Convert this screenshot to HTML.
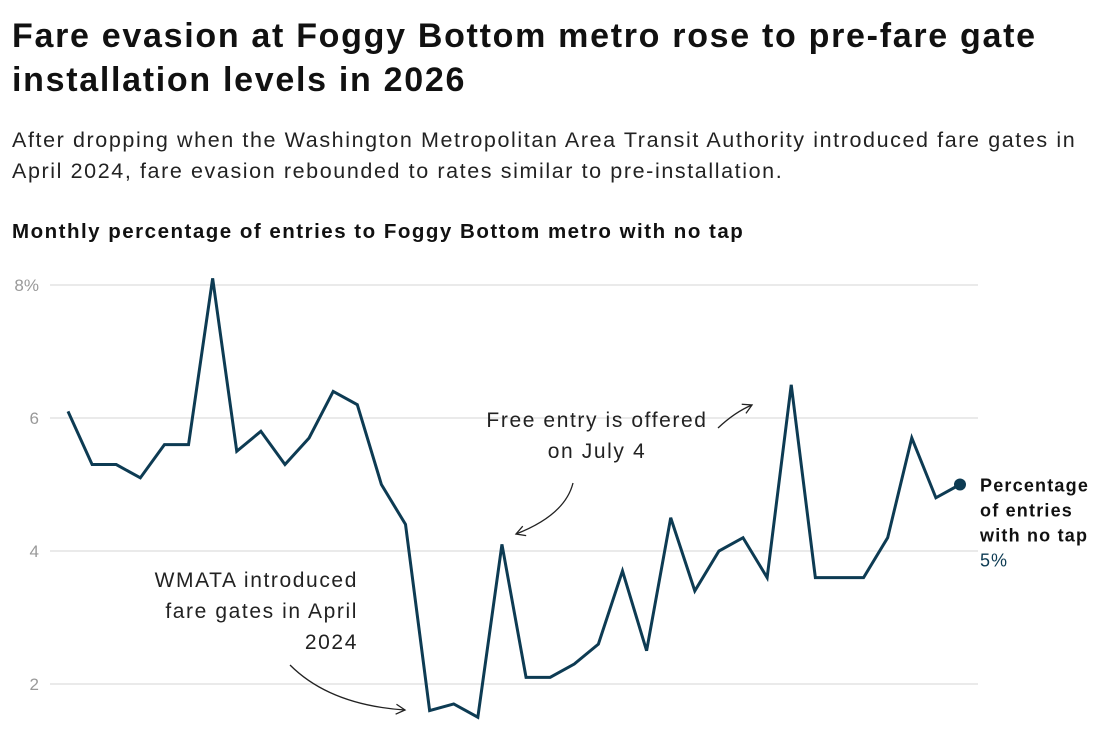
<!DOCTYPE html>
<html><head><meta charset="utf-8">
<style>
body{margin:0;background:#fff;font-family:"Liberation Sans",Arial,sans-serif;color:#111;width:1109px;height:751px;overflow:hidden;position:relative}
h1{position:absolute;left:12px;top:14px;margin:0;font-size:34px;line-height:44px;font-weight:bold;letter-spacing:1.7px;width:1090px}
.sub{position:absolute;left:12px;top:125px;margin:0;font-size:21.5px;line-height:31px;color:#222;width:1095px;letter-spacing:1.6px}
.ct{position:absolute;left:12px;top:220px;margin:0;font-size:20.5px;font-weight:bold;color:#111;letter-spacing:1.5px}
svg{position:absolute;left:0;top:0}
</style></head><body>
<h1>Fare evasion at Foggy Bottom metro rose to pre-fare gate installation levels in 2026</h1>
<p class="sub">After dropping when the Washington Metropolitan Area Transit Authority introduced fare gates in April 2024, fare evasion rebounded to rates similar to pre-installation.</p>
<p class="ct">Monthly percentage of entries to Foggy Bottom metro with no tap</p>
<svg id="chart" width="1109" height="751"></svg>
<script>
const values=[6.1,5.3,5.3,5.1,5.6,5.6,8.1,5.5,5.8,5.3,5.7,6.4,6.2,5.0,4.4,1.6,1.7,1.5,4.1,2.1,2.1,2.3,2.6,3.7,2.5,4.5,3.4,4.0,4.2,3.6,6.5,3.6,3.6,3.6,4.2,5.7,4.8,5.0];
const ticks=[2,4,6,8];
const tickLabels=["2","4","6","8%"];
const NS="http://www.w3.org/2000/svg";
const svg=document.getElementById('chart');
const x=i=>68+i*(960-68)/(values.length-1);
const y=v=>817-v*66.5;
function mk(t,a,p){const e=document.createElementNS(NS,t);for(const k in a)e.setAttribute(k,a[k]);(p||svg).appendChild(e);return e;}
ticks.forEach((t,i)=>{
 const g=mk('line',{x1:50,x2:978,y1:y(t),y2:y(t),stroke:'#e3e3e3','stroke-width':1.5});
 
 
 const tx=mk('text',{x:39,y:y(t)+6,'text-anchor':'end','font-size':17,fill:'#999','font-family':'Liberation Sans, sans-serif'});
 tx.textContent=tickLabels[i];
 
 
});
const pl=mk('polyline',{points:values.map((v,i)=>x(i)+','+y(v)).join(' '),fill:'none',stroke:'#0d3b53','stroke-width':3,'stroke-linejoin':'miter'});


const last=values.length-1;
const dot=mk('circle',{cx:x(last),cy:y(values[last]),r:6,fill:'#0d3b53'});


const ly=y(values[last]);
[["Percentage",0],["of entries",25],["with no tap",50]].forEach(([s,d])=>{
 const t=mk('text',{x:980,y:ly+7+d,'font-size':18,'font-weight':'bold',fill:'#111','font-family':'Liberation Sans, sans-serif','letter-spacing':1.2});
 t.textContent=s;
 
 
});
const vl=mk('text',{x:980,y:ly+82,'font-size':18,fill:'#0d3b53','font-family':'Liberation Sans, sans-serif','letter-spacing':1});
vl.textContent=Math.round(values[last])+'%';


function note(lines,xx,y0,anchor,name){lines.forEach((s,i)=>{const t=mk('text',{x:xx,y:y0+i*31,'text-anchor':anchor,'font-size':21,fill:'#222','font-family':'Liberation Sans, sans-serif','letter-spacing':1.6});t.textContent=s;});}
note(["Free entry is offered","on July 4"],597,427,'middle','annotation-july4');
note(["WMATA introduced","fare gates in April","2024"],358,587,'end','annotation-fare-gates');
function arrow(d,hx,hy,ang,name){
 const p=mk('path',{d:d,fill:'none',stroke:'#222','stroke-width':1.3});
 
 
 const a=mk('path',{d:'M-9,-5 L0,0 L-9,5',fill:'none',stroke:'#222','stroke-width':1.3,transform:`translate(${hx},${hy}) rotate(${ang})`});
 
 
}
arrow('M573,483 Q565,515 516,534',516,534,160,'arrow-july4');
arrow('M718,428 Q735,412 752,405',752,405,-25,'arrow-spike');
arrow('M290,665 Q330,705 405,710',405,710,5,'arrow-fare-gates');
</script>
</body></html>
